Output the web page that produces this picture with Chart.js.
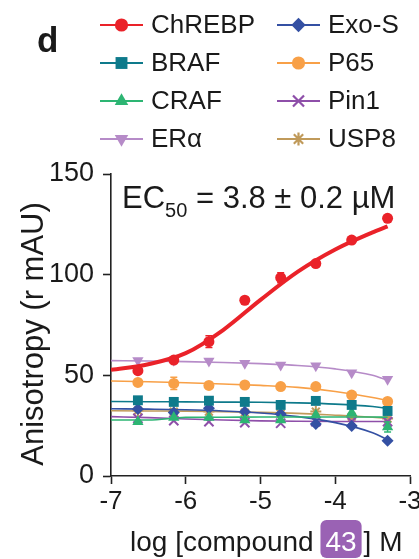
<!DOCTYPE html>
<html>
<head>
<meta charset="utf-8">
<script src="https://cdn.jsdelivr.net/npm/chart.js@4.4.1/dist/chart.umd.min.js"></script>
<style>
  html, body { margin: 0; padding: 0; background: #fff; }
  #wrap { width: 419px; height: 559px; }
</style>
</head>
<body>
<div id="wrap"><canvas id="anisoChart"></canvas></div>
<script>
// log [compound 43] (M) of the measured points
const logConc = [-6.64, -6.16, -5.69, -5.21, -4.73, -4.26, -3.78, -3.30];
const fitX = [-7, -6.5, -6, -5.5, -5, -4.5, -4, -3.5, -3.3];
const crafFitX = [-7, -6.52, -6.47, -6, -5.5, -5, -4.5, -4, -3.5, -3.3];

const xTicks = [-7, -6, -5, -4, -3];
const yTicks = [0, 50, 100, 150];

// anisotropy (r mAU)
const chrebp = [52.3, 57.6, 66.7, 87.3, 98.5, 105.5, 117.2, 128];
const braf   = [37.6, 36.8, 37.4, 36.8, 35.3, 37.3, 35.3, 32.3];
const craf   = [27.0, 29.1, 29.1, 27.8, 27.8, 30.3, 31.4, 24.3];
const era    = [57.4, 57.5, 57.1, 56.0, 55.1, 54.8, 51.3, 48.0];
const exos   = [33.3, 31.6, 33.6, 31.9, 30.8, 25.8, 24.8, 17.5];
const p65    = [46.5, 46.0, 45.0, 45.2, 44.4, 44.4, 40.2, 37.0];
const pin1   = [28.6, 27.5, 27.0, 26.5, 26.2, 27.0, 27.0, 27.0];
const usp8   = [32.5, 32.0, 32.0, 31.5, 31.0, 32.0, 29.5, 28.5];

// error bars (only the visible ones)
const chrebpErr = [0, 0, 2.9, 0, 2.5, 0, 0, 0];
const p65Err    = [0, 3, 0, 0, 0, 0, 0, 0];
const crafErr   = [0, 0, 0, 0, 0, 0, 0, 2.5];

// fitted curves
const chrebpFit = [52.7, 55.5, 61, 72.5, 87.5, 101.5, 112.5, 121, 124];
const brafFit   = [37, 36.9, 36.8, 36.7, 36.6, 36.3, 35.7, 34.5, 33.6];
const crafFit   = [27.8, 27.8, 29.1, 29.2, 29.3, 29.3, 29.3, 29.3, 29.2, 29.1];
const eraFit    = [57.3, 57.1, 56.8, 56.4, 55.8, 54.9, 53.2, 50, 47.5];
const exosFit   = [33.4, 33.2, 32.9, 32.3, 31.3, 29.5, 26.5, 21.5, 18];
const p65Fit    = [47.2, 46.8, 46.3, 45.7, 45, 44, 42, 39, 37.5];
const pin1Fit   = [29.5, 29, 28.3, 27.8, 27.4, 27.2, 27.1, 27.1, 27.1];
const usp8Fit   = [32.4, 32.3, 32.2, 31.9, 31.6, 31.1, 30.2, 29.2, 28.7];

const FONT = "'Liberation Sans', Arial, Helvetica, sans-serif";
const INK = "#1a1a1a";

const series = [
  { label: "ChREBP", color: "#ea2229", pts: chrebp, fit: chrebpFit, fx: fitX, err: chrebpErr, style: "circle", r: 5.5, lw: 4 },
  { label: "BRAF",   color: "#0e7a8b", pts: braf,   fit: brafFit,   fx: fitX, style: "rect", r: 7, lw: 1.6 },
  { label: "CRAF",   color: "#2db573", pts: craf,   fit: crafFit,   fx: fitX, err: crafErr, style: "triangle", r: 6.5, lw: 1.6 },
  { label: "ERα",    color: "#b68bc8", pts: era,    fit: eraFit,    fx: fitX, style: "triangle", rot: 180, r: 6.5, lw: 1.6 },
  { label: "Exo-S",  color: "#3450a3", pts: exos,   fit: exosFit,   fx: fitX, style: "rectRot", r: 6, lw: 1.6 },
  { label: "P65",    color: "#f8a047", pts: p65,    fit: p65Fit,    fx: fitX, err: p65Err, style: "circle", r: 5.5, lw: 1.6 },
  { label: "Pin1",   color: "#8e4fa9", pts: pin1,   fit: pin1Fit,   fx: fitX, style: "crossRot", r: 6.5, lw: 1.6 },
  { label: "USP8",   color: "#c09a5a", pts: usp8,   fit: usp8Fit,   fx: fitX, style: "star", r: 5.5, lw: 1.6 }
];

const thinStyle = s => s === "crossRot" || s === "star";

const datasets = [];
series.forEach((s, i) => {
  datasets.push({
    label: s.label + " pts",
    data: logConc.map((x, k) => ({ x: x, y: s.pts[k] })),
    showLine: false,
    pointStyle: s.style,
    rotation: s.rot || 0,
    pointRadius: s.r,
    pointBorderWidth: thinStyle(s.style) ? 2 : 0,
    borderColor: s.color,
    backgroundColor: s.color,
    errors: s.err,
    order: i * 2
  });
  datasets.push({
    label: s.label + " fit",
    data: s.fx.map((x, k) => ({ x: x, y: s.fit[k] })),
    showLine: true,
    pointRadius: 0,
    borderColor: s.color,
    borderWidth: s.lw,
    cubicInterpolationMode: "monotone",
    order: i * 2 + 1
  });
});

// error bars from the errors arrays
const errorBars = {
  id: "errorBars",
  afterDatasetsDraw(chart) {
    const ctx = chart.ctx, xs = chart.scales.x, ys = chart.scales.y;
    chart.data.datasets.forEach(ds => {
      if (!ds.errors) return;
      ctx.save();
      ctx.strokeStyle = ds.borderColor;
      ctx.lineWidth = 1.5;
      ds.data.forEach((p, k) => {
        const e = ds.errors[k];
        if (!e) return;
        const px = xs.getPixelForValue(p.x);
        const top = ys.getPixelForValue(p.y + e), bot = ys.getPixelForValue(p.y - e);
        ctx.beginPath();
        ctx.moveTo(px, top); ctx.lineTo(px, bot);
        ctx.moveTo(px - 3.5, top); ctx.lineTo(px + 3.5, top);
        ctx.moveTo(px - 3.5, bot); ctx.lineTo(px + 3.5, bot);
        ctx.stroke();
      });
      ctx.restore();
    });
  }
};

// legend, panel letter, EC50 note, axis titles
const decorations = {
  id: "decorations",
  afterDraw(chart) {
    const ctx = chart.ctx;
    ctx.save();
    ctx.fillStyle = INK;
    ctx.textBaseline = "alphabetic";
    ctx.font = "bold 35px " + FONT;
    ctx.fillText("d", 37, 52);

    // legend: two columns of four
    const cols = [100, 277], rows = [25, 63, 101, 139];
    series.forEach((s, i) => {
      const x0 = cols[Math.floor(i / 4)], y = rows[i % 4];
      ctx.strokeStyle = s.color;
      ctx.lineWidth = 2.2;
      ctx.beginPath(); ctx.moveTo(x0, y); ctx.lineTo(x0 + 43, y); ctx.stroke();
      ctx.fillStyle = s.color;
      Chart.helpers.drawPoint(ctx, {
        pointStyle: s.style, radius: s.r * 1.2, rotation: s.rot || 0,
        borderWidth: thinStyle(s.style) ? 2 : 0
      }, x0 + 21.5, y);
      ctx.fillStyle = INK;
      ctx.font = "26px " + FONT;
      ctx.textBaseline = "middle";
      ctx.fillText(s.label, x0 + 51, y + 1);
    });

    // EC50 annotation
    ctx.textBaseline = "alphabetic";
    ctx.font = "31px " + FONT;
    let x = 122;
    ctx.fillText("EC", x, 208); x += ctx.measureText("EC").width;
    ctx.font = "20px " + FONT;
    ctx.fillText("50", x, 217); x += ctx.measureText("50").width;
    ctx.font = "31px " + FONT;
    ctx.fillText(" = 3.8 ± 0.2 µM", x, 208);

    // y title
    ctx.save();
    ctx.translate(34, 334);
    ctx.rotate(-Math.PI / 2);
    ctx.font = "31px " + FONT;
    ctx.textAlign = "center";
    ctx.textBaseline = "middle";
    ctx.fillText("Anisotropy (r mAU)", 0, 0);
    ctx.restore();

    // x title with highlighted compound number
    ctx.font = "28px " + FONT;
    let tx = 130;
    const base = 551;
    ctx.fillText("log [compound ", tx, base);
    tx += ctx.measureText("log [compound ").width;
    const boxW = ctx.measureText("43").width + 10;
    ctx.fillStyle = "#9a62b4";
    ctx.beginPath();
    ctx.roundRect(tx - 1, 520, boxW, 38, 6);
    ctx.fill();
    ctx.fillStyle = "#ffffff";
    ctx.fillText("43", tx + 4, base);
    tx += boxW + 1;
    ctx.fillStyle = INK;
    ctx.fillText("] M", tx, base);
    ctx.restore();
  }
};

const axisLine = { color: "#222", width: 1.6 };
const gridTicks = { drawOnChartArea: false, drawTicks: true, tickLength: 8, tickColor: "#222", tickWidth: 1.6 };

new Chart(document.getElementById("anisoChart"), {
  type: "scatter",
  data: { datasets: datasets },
  options: {
    responsive: true,
    maintainAspectRatio: false,
    animation: false,
    layout: { padding: { top: 174, right: 9, left: 0, bottom: 0 } },
    plugins: { legend: { display: false }, tooltip: { enabled: false } },
    scales: {
      x: {
        type: "linear",
        min: xTicks[0],
        max: xTicks[xTicks.length - 1],
        afterBuildTicks: s => { s.ticks = xTicks.map(v => ({ value: v })); },
        afterFit: s => { s.height = 83; s.paddingLeft = 0; s.paddingRight = 0; },
        border: axisLine,
        grid: gridTicks,
        ticks: { color: INK, font: { family: FONT, size: 26 }, padding: 2, maxRotation: 0, callback: v => String(v) }
      },
      y: {
        type: "linear",
        min: yTicks[0],
        max: yTicks[yTicks.length - 1],
        afterBuildTicks: s => { s.ticks = yTicks.map(v => ({ value: v })); },
        afterFit: s => { s.width = 111; s.paddingTop = 0; s.paddingBottom = 0; },
        border: axisLine,
        grid: gridTicks,
        ticks: { color: INK, font: { family: FONT, size: 27 }, padding: 9, callback: v => String(v) }
      }
    }
  },
  plugins: [errorBars, decorations]
});
</script>
</body>
</html>
